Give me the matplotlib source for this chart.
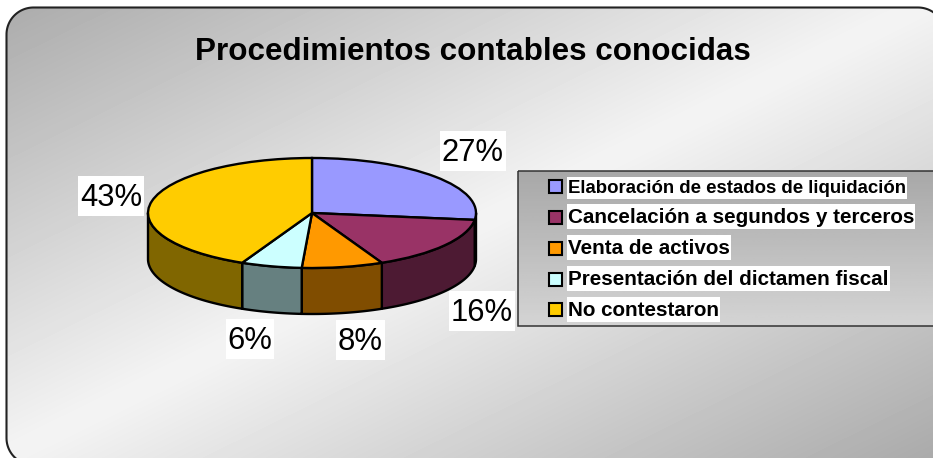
import numpy as np
import matplotlib
matplotlib.use("Agg")
import matplotlib.pyplot as plt
from matplotlib.patches import Rectangle, Polygon

# --- data ---
title = "Procedimientos contables conocidas"
categories = ["Elaboración de estados de liquidación",
              "Cancelación a segundos y terceros",
              "Venta de activos",
              "Presentación del dictamen fiscal",
              "No contestaron"]
values = [27, 16, 8, 6, 43]
colors = ["#9999FF", "#993366", "#FF9900", "#CCFFFF", "#FFCC00"]
wall_colors = ["#4D4D80", "#4D1A33", "#804D00", "#668080", "#806600"]

W, H = 933, 458
plt.rcParams["font.family"] = ["Liberation Sans", "DejaVu Sans"]
fig = plt.figure(figsize=(W / 100, H / 100), dpi=100, facecolor="white")

# --- pixel-coordinate background layer ---
bg = fig.add_axes([0, 0, 1, 1], zorder=0)
bg.axis("off")

FL, FT, FR, FB, FRAD = 6.5, 7.5, 945, 465, 27


def corner(cx, cy, a0, a1):
    a = np.radians(np.linspace(a0, a1, 30))
    return np.c_[cx + FRAD * np.cos(a), cy + FRAD * np.sin(a)]


outline = np.vstack([corner(FL + FRAD, FT + FRAD, 180, 270),
                     corner(FR - FRAD, FT + FRAD, 270, 360),
                     corner(FR - FRAD, FB - FRAD, 0, 90),
                     corner(FL + FRAD, FB - FRAD, 90, 180)])
frame = Polygon(outline, closed=True, fc="none", ec="#222222", lw=1.5, zorder=3, clip_on=False)
bg.add_patch(frame)
yy, xx = np.mgrid[0:H, 0:W]
t = (xx / W + yy / H) / 2
shade = 170 + (244 - 170) * (1 - np.abs(2 * t - 1))
grad = bg.imshow(shade, cmap="gray", vmin=0, vmax=255, extent=(0, W, H, 0),
                 aspect="auto", zorder=1, interpolation="bilinear")
grad.set_clip_path(frame)
bg.set_xlim(0, W)
bg.set_ylim(H, 0)

bg.text(472.5, 60, title, fontsize=22.6, fontweight="bold", ha="center", va="baseline",
        color="black", zorder=4)

# --- 3D pie ---
PL, PR, PT, RY, DEPTH = 148, 476, 158, 55, 46
pie_h = 2 * RY + DEPTH
pa = fig.add_axes([PL / W, 1 - (PT + pie_h) / H, (PR - PL) / W, pie_h / H], zorder=1)
pa.patch.set_alpha(0)
d = DEPTH / RY
edges = np.cumsum([0] + values) / sum(values) * 360
LW = 1.7
for i, col in enumerate(wall_colors):
    a0, a1 = max(edges[i], 90), min(edges[i + 1], 270)
    if a1 <= a0:
        continue
    th = np.radians(np.linspace(a0, a1, 80))
    x, y = np.sin(th), np.cos(th)
    pts = np.r_[np.c_[x, y], np.c_[x, y - d][::-1]]
    pa.add_patch(Polygon(pts, closed=True, fc=col, ec="black", lw=LW,
                         joinstyle="round", clip_on=False))
wedges, _ = pa.pie(values, colors=colors, startangle=90, counterclock=False, radius=1,
                   wedgeprops=dict(edgecolor="black", linewidth=LW, clip_on=False))
pa.set_aspect("auto")
pa.set_xlim(-1, 1)
pa.set_ylim(-1 - d, 1)
pa.axis("off")

# --- overlay layer in pixels ---
top = fig.add_axes([0, 0, 1, 1], zorder=2)
top.axis("off")
top.patch.set_alpha(0)

# legend background
LL, LT, LB = 518, 171, 326
lg_shade = np.linspace(168, 212, 64)[:, None]
top.imshow(lg_shade, cmap="gray", vmin=0, vmax=255, extent=(LL, W + 2, LB, LT),
           aspect="auto", zorder=1)
top.add_patch(Rectangle((LL, LT), W + 10 - LL, LB - LT, fc="none", ec="#333333", lw=1.1,
                        zorder=2, clip_on=False))
top.set_xlim(0, W)
top.set_ylim(H, 0)
renderer = fig.canvas.get_renderer()


def boxed(x, base, text, up, down, padx, **kw):
    """Text sitting on a white rectangle sized from its measured width."""
    tx = top.text(x, base, text, va="baseline", color="black", zorder=6, **kw)
    ext = tx.get_window_extent(renderer)
    top.add_patch(Rectangle((ext.x0 - padx, base - up), ext.width + 2 * padx, up + down,
                            fc="white", ec="none", zorder=5, clip_on=False))


# percentage labels
label_pos = [(472.5, 161), (482, 321), (360, 350), (250, 349), (111, 206)]
for v, (lx, ly) in zip(values, label_pos):
    boxed(lx, ly, f"{v}%", 30, 10, 2, fontsize=22.3, ha="center")

# legend entries
swatch_y = [186.5, 217, 248, 279, 309.5]
text_base = [193, 223, 254, 285, 316]
sizes = [13.4, 14.9, 14.9, 14.9, 14.9]
ups = [16, 19, 19, 19, 19]
for name, col, sy, base, fs, up in zip(categories, colors, swatch_y, text_base, sizes, ups):
    top.add_patch(Rectangle((549, sy - 6.5), 13, 13, fc=col, ec="black", lw=1.5, zorder=6))
    boxed(568, base, name, up, 6, 1, fontsize=fs, fontweight="bold", ha="left")

fig.savefig("out.png", dpi=100, facecolor="white")
